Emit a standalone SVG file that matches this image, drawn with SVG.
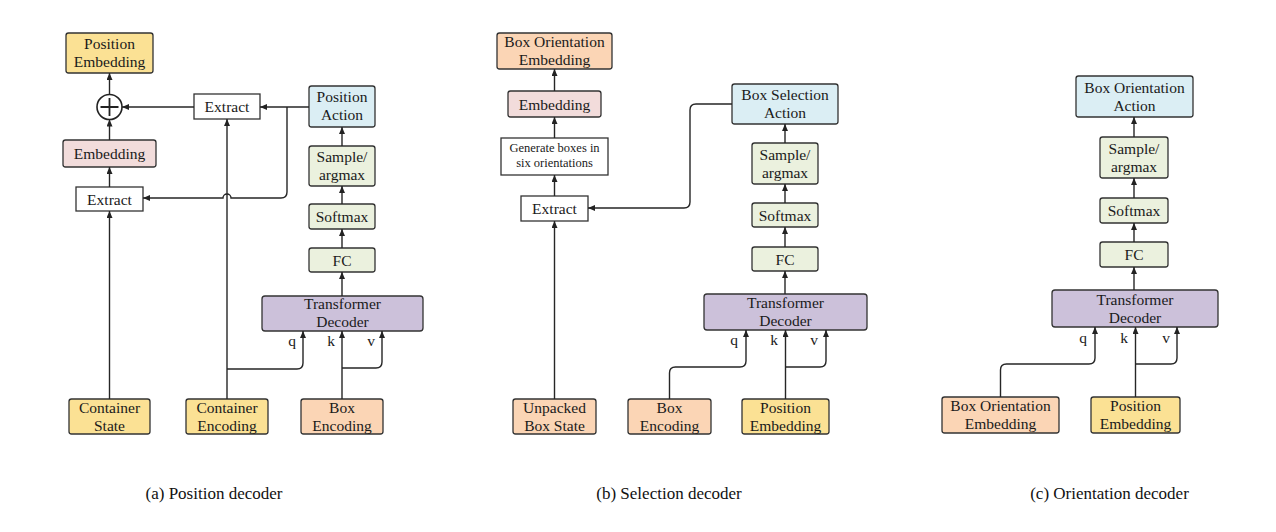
<svg xmlns="http://www.w3.org/2000/svg" width="1276" height="532" viewBox="0 0 1276 532">
<defs>
<marker id="ah" markerUnits="userSpaceOnUse" markerWidth="7" markerHeight="6" refX="7" refY="3" orient="auto">
<path d="M0,0 L7,3 L0,6 z" fill="#222"/>
</marker>
<style>
.b{stroke:#333;stroke-width:1.3}
.yel{fill:#FBE194}.org{fill:#FBD5B5}.pnk{fill:#F2DCDB}.blu{fill:#DBEEF4}.grn{fill:#EBF1DE}.pur{fill:#CCC1DA}.wht{fill:#fff}
.t{font-family:"Liberation Serif","Times New Roman",serif;font-size:15.5px;fill:#1a1a1a;text-anchor:middle}
.s{font-size:12.5px}
.cap{font-family:"Liberation Serif","Times New Roman",serif;font-size:17px;fill:#111;text-anchor:middle}
.c{fill:none;stroke:#262626;stroke-width:1.4}
.a{marker-end:url(#ah)}
</style>
</defs>
<rect width="1276" height="532" fill="#fff"/>

<!-- Panel (a) -->
<g id="a-posemb"><rect class="b yel" x="66" y="33" width="87" height="40" rx="2.5"/><text class="t" x="109.5" y="49">Position</text><text class="t" x="109.5" y="67">Embedding</text></g>
<g id="a-plus"><circle cx="109.5" cy="107" r="12.5" fill="#fff" stroke="#222" stroke-width="1.6"/><path d="M100.5,107 H118.5 M109.5,98 V116" stroke="#222" stroke-width="1.8"/></g>
<g id="a-emb"><rect class="b pnk" x="63" y="140" width="93" height="27" rx="2.5"/><text class="t" x="109.5" y="159">Embedding</text></g>
<g id="a-extract1"><rect class="b wht" x="76" y="187" width="67" height="24"/><text class="t" x="109.5" y="204.5">Extract</text></g>
<g id="a-extract2"><rect class="b wht" x="194" y="94" width="66" height="25"/><text class="t" x="227" y="112">Extract</text></g>
<g id="a-posact"><rect class="b blu" x="309" y="86" width="66" height="41" rx="2.5"/><text class="t" x="342" y="102">Position</text><text class="t" x="342" y="120">Action</text></g>
<g id="a-sample"><rect class="b grn" x="309" y="146" width="66" height="40" rx="2.5"/><text class="t" x="342" y="162">Sample/</text><text class="t" x="342" y="180">argmax</text></g>
<g id="a-softmax"><rect class="b grn" x="309" y="204" width="66" height="25" rx="2.5"/><text class="t" x="342" y="222">Softmax</text></g>
<g id="a-fc"><rect class="b grn" x="309" y="248" width="66" height="24" rx="2.5"/><text class="t" x="342" y="265.5">FC</text></g>
<g id="a-dec"><rect class="b pur" x="262" y="296" width="161" height="35" rx="3"/><text class="t" x="342.5" y="309">Transformer</text><text class="t" x="342.5" y="327">Decoder</text></g>
<g id="a-cstate"><rect class="b yel" x="69" y="399" width="81" height="35" rx="2.5"/><text class="t" x="109.5" y="412.5">Container</text><text class="t" x="109.5" y="430.5">State</text></g>
<g id="a-cenc"><rect class="b yel" x="186" y="399" width="82" height="35" rx="2.5"/><text class="t" x="227" y="412.5">Container</text><text class="t" x="227" y="430.5">Encoding</text></g>
<g id="a-benc"><rect class="b org" x="301" y="399" width="82" height="35" rx="2.5"/><text class="t" x="342" y="412.5">Box</text><text class="t" x="342" y="430.5">Encoding</text></g>

<!-- Panel (b) -->
<g id="b-boemb"><rect class="b org" x="497" y="33" width="115" height="36" rx="2.5"/><text class="t" x="554.5" y="46.5">Box Orientation</text><text class="t" x="554.5" y="64.5">Embedding</text></g>
<g id="b-emb"><rect class="b pnk" x="508" y="91" width="93" height="26" rx="2.5"/><text class="t" x="554.5" y="109.5">Embedding</text></g>
<g id="b-gen"><rect class="b wht" x="501" y="138" width="107" height="37"/><text class="t s" x="554.5" y="152">Generate boxes in</text><text class="t s" x="554.5" y="167">six orientations</text></g>
<g id="b-extract"><rect class="b wht" x="521" y="196" width="67" height="25"/><text class="t" x="554.5" y="214">Extract</text></g>
<g id="b-bsa"><rect class="b blu" x="732" y="84" width="106" height="40" rx="2.5"/><text class="t" x="785" y="100">Box Selection</text><text class="t" x="785" y="118">Action</text></g>
<g id="b-sample"><rect class="b grn" x="752" y="143" width="66" height="41" rx="2.5"/><text class="t" x="785" y="159.5">Sample/</text><text class="t" x="785" y="177.5">argmax</text></g>
<g id="b-softmax"><rect class="b grn" x="752" y="203" width="66" height="24" rx="2.5"/><text class="t" x="785" y="220.5">Softmax</text></g>
<g id="b-fc"><rect class="b grn" x="752" y="247" width="66" height="24" rx="2.5"/><text class="t" x="785" y="264.5">FC</text></g>
<g id="b-dec"><rect class="b pur" x="704" y="294" width="163" height="36" rx="3"/><text class="t" x="785.5" y="308">Transformer</text><text class="t" x="785.5" y="326">Decoder</text></g>
<g id="b-unpacked"><rect class="b org" x="513" y="399" width="83" height="35" rx="2.5"/><text class="t" x="554.5" y="412.5">Unpacked</text><text class="t" x="554.5" y="430.5">Box State</text></g>
<g id="b-benc"><rect class="b org" x="628" y="399" width="83" height="35" rx="2.5"/><text class="t" x="669.5" y="412.5">Box</text><text class="t" x="669.5" y="430.5">Encoding</text></g>
<g id="b-posemb"><rect class="b yel" x="742" y="399" width="87" height="35" rx="2.5"/><text class="t" x="785.5" y="412.5">Position</text><text class="t" x="785.5" y="430.5">Embedding</text></g>

<!-- Panel (c) -->
<g id="c-boa"><rect class="b blu" x="1076" y="76" width="117" height="41" rx="2.5"/><text class="t" x="1134.5" y="92.5">Box Orientation</text><text class="t" x="1134.5" y="110.5">Action</text></g>
<g id="c-sample"><rect class="b grn" x="1100" y="137" width="68" height="41" rx="2.5"/><text class="t" x="1134" y="153.5">Sample/</text><text class="t" x="1134" y="171.5">argmax</text></g>
<g id="c-softmax"><rect class="b grn" x="1100" y="198" width="68" height="25" rx="2.5"/><text class="t" x="1134" y="216">Softmax</text></g>
<g id="c-fc"><rect class="b grn" x="1100" y="242" width="68" height="25" rx="2.5"/><text class="t" x="1134" y="260">FC</text></g>
<g id="c-dec"><rect class="b pur" x="1052" y="290" width="166" height="37" rx="3"/><text class="t" x="1135" y="304.5">Transformer</text><text class="t" x="1135" y="322.5">Decoder</text></g>
<g id="c-boemb"><rect class="b org" x="942" y="397" width="117" height="36" rx="2.5"/><text class="t" x="1000.5" y="411">Box Orientation</text><text class="t" x="1000.5" y="429">Embedding</text></g>
<g id="c-posemb"><rect class="b yel" x="1091" y="397" width="89" height="36" rx="2.5"/><text class="t" x="1135.5" y="411">Position</text><text class="t" x="1135.5" y="429">Embedding</text></g>

<!-- Connectors -->
<g id="connectors">
<path class="c a" d="M109.5,399 V211"/>
<path class="c a" d="M109.5,187 V167"/>
<path class="c a" d="M109.5,140 V119.5"/>
<path class="c a" d="M109.5,94.5 V73"/>
<path class="c a" d="M194,107 H122"/>
<path class="c a" d="M309,107 H260"/>
<path class="c a" d="M287,107 V192 Q287,198 281,198 H231 A4,4 0 0 0 223,198 H143"/>
<path class="c a" d="M227,399 V119"/>
<path class="c a" d="M227,369 H297 Q303,369 303,363 V331"/>
<path class="c a" d="M342,399 V331"/>
<path class="c a" d="M342,368 H376 Q382,368 382,362 V331"/>
<path class="c a" d="M342,296 V272"/>
<path class="c a" d="M342,248 V229"/>
<path class="c a" d="M342,204 V186"/>
<path class="c a" d="M342,146 V127"/>

<path class="c a" d="M554.5,399 V221"/>
<path class="c a" d="M554.5,196 V175"/>
<path class="c a" d="M554.5,138 V117"/>
<path class="c a" d="M554.5,91 V69"/>
<path class="c a" d="M732,104 H696 Q690,104 690,110 V202 Q690,208 684,208 H588"/>
<path class="c a" d="M785,294 V271"/>
<path class="c a" d="M785,247 V227"/>
<path class="c a" d="M785,203 V184"/>
<path class="c a" d="M785,143 V124"/>
<path class="c a" d="M669.5,399 V373 Q669.5,367 675.5,367 H740 Q746,367 746,361 V330"/>
<path class="c a" d="M785.5,399 V330"/>
<path class="c a" d="M785.5,367 H820 Q826,367 826,361 V330"/>

<path class="c a" d="M1134,290 V267"/>
<path class="c a" d="M1134,242 V223"/>
<path class="c a" d="M1134,198 V178"/>
<path class="c a" d="M1134,137 V117"/>
<path class="c a" d="M1000.5,397 V370 Q1000.5,364 1006.5,364 H1089 Q1095,364 1095,358 V327"/>
<path class="c a" d="M1135.5,397 V327"/>
<path class="c a" d="M1135.5,364 H1171 Q1177,364 1177,358 V327"/>
</g>

<!-- q k v labels -->
<g id="labels">
<text class="t" x="292" y="346">q</text><text class="t" x="331" y="346">k</text><text class="t" x="371" y="346">v</text>
<text class="t" x="734" y="345">q</text><text class="t" x="774" y="345">k</text><text class="t" x="814" y="345">v</text>
<text class="t" x="1083" y="343">q</text><text class="t" x="1124" y="343">k</text><text class="t" x="1166" y="343">v</text>
</g>

<g id="captions">
<text class="cap" x="214" y="499">(a) Position decoder</text>
<text class="cap" x="669" y="499">(b) Selection decoder</text>
<text class="cap" x="1109.5" y="499">(c) Orientation decoder</text>
</g>
</svg>
